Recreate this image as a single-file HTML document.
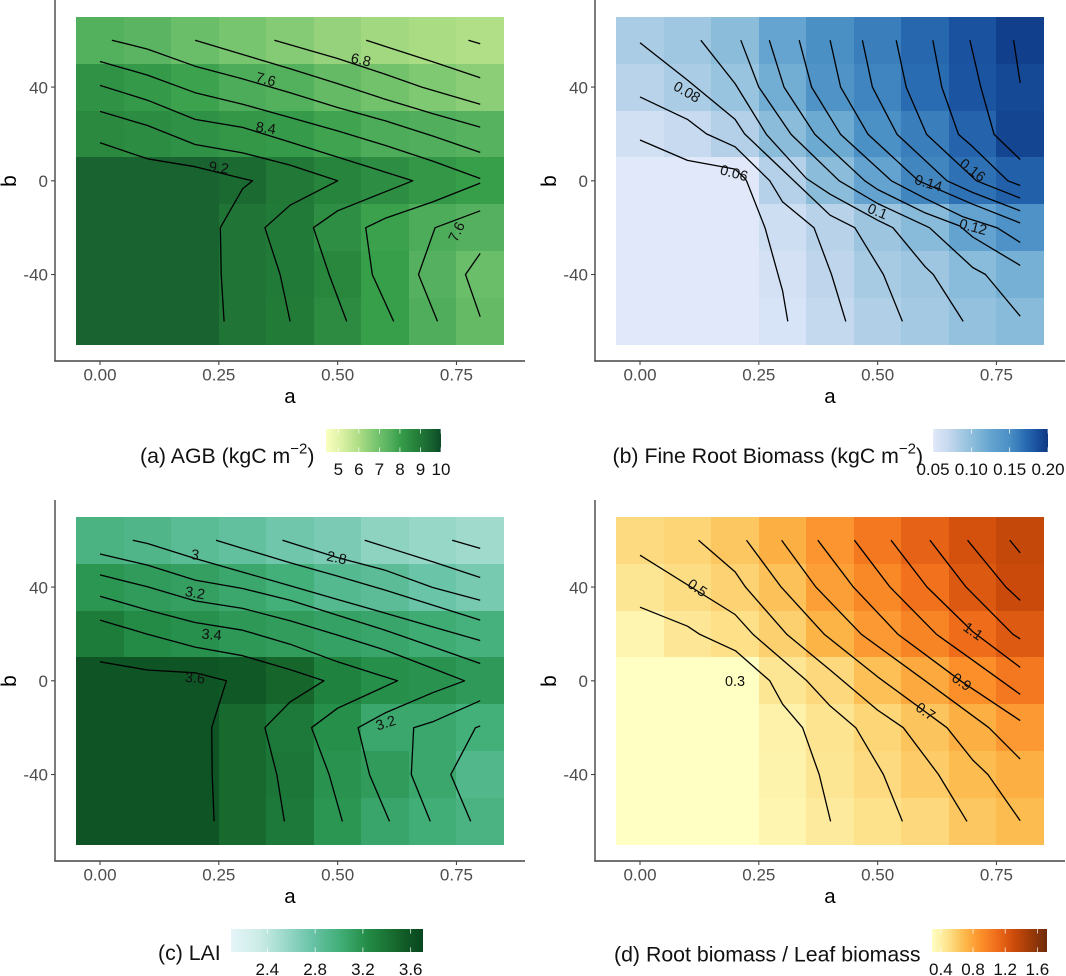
<!DOCTYPE html>
<html lang="en">
<head>
<meta charset="utf-8">
<title>Contour heatmaps of AGB, fine root biomass, LAI and root/leaf biomass</title>
<style>
html,body{margin:0;padding:0;background:#fff;}
svg{display:block;font-family:"Liberation Sans",Arial,sans-serif;}
</style>
</head>
<body>
<svg id="chart" width="1066" height="976" viewBox="0 0 1066 976" xmlns="http://www.w3.org/2000/svg"></svg>
<script>
// ---------- shared axes data ----------
const aValues = [0, 0.1, 0.2, 0.3, 0.4, 0.5, 0.6, 0.7, 0.8];
const bValues = [60, 40, 20, 0, -20, -40, -60];
const xTicks = [0, 0.25, 0.5, 0.75];
const xTickLabels = ["0.00", "0.25", "0.50", "0.75"];
const yTicks = [40, 0, -40];
const yTickLabels = ["40", "0", "-40"];

// ---------- (a) AGB ----------
const agbCells = [
  [7.54, 7.4, 7.1, 6.83, 6.62, 6.37, 6.17, 6.05, 5.92],
  [8.33, 8.13, 7.9, 7.65, 7.55, 7.2, 6.95, 6.7, 6.53],
  [8.57, 8.48, 8.36, 8.2, 8.1, 7.88, 7.66, 7.6, 7.48],
  [9.5, 9.5, 9.5, 9.35, 9.0, 8.7, 8.45, 8.2, 8.0],
  [9.5, 9.5, 9.5, 9.1, 8.95, 8.4, 7.93, 7.66, 7.5],
  [9.5, 9.5, 9.5, 9.1, 8.95, 8.65, 8.0, 7.5, 7.1],
  [9.5, 9.5, 9.5, 9.1, 8.92, 8.5, 8.0, 7.62, 7.2]
];
const agbContours = [
  [[.775,60],[.8,58.5]],
  [[.56,60],[.7,50.8],[.8,44]],
  [[.367,60],[.5,52.2],[.6,45.5],[.677,40],[.8,32.7]],
  [[.2,60],[.3,53.9],[.4,47.8],[.5,41.5],[.6,34.8],[.7,28.7],[.8,22.9]],
  [[.025,60],[.1,56.2],[.2,48.9],[.3,43.5],[.4,37.6],[.5,31.3],[.6,25.6],[.7,19.1],[.8,12.1]],
  [[0,50.9],[.1,45.1],[.2,37.6],[.3,32.7],[.4,27],[.5,21.3],[.6,15.1],[.7,8.4],[.8,1]],
  [[0,40.7],[.1,34.4],[.2,26.2],[.3,22.8],[.4,16.5],[.5,10.1],[.6,3.7],[.658,0],[.6,-4.7],[.5,-12.8],[.449,-20],[.482,-40],[.519,-60]],
  [[0,29.6],[.1,23.6],[.2,15.5],[.3,11.9],[.4,6.7],[.5,0],[.4,-10.4],[.347,-20],[.379,-40],[.4,-60]],
  [[0,16.2],[.1,9.4],[.2,6],[.3,1],[.321,0],[.3,-3.4],[.253,-20],[.255,-40],[.261,-60]],
  [[.8,-1],[.7,-9],[.6,-16],[.559,-20],[.573,-40],[.618,-60]],
  [[.8,-12.8],[.705,-20],[.67,-40],[.71,-60]],
  [[.8,-31],[.769,-40],[.8,-58]]
];
const agbLabelText = ["6.8", "7.6", "8.4", "9.2", "7.6"];
const agbLabelA = [.549, .349, .349, .25, .75];
const agbLabelB = [51.7, 43.4, 22.6, 5.7, -21.7];
const agbScaleValues = [4.4, 5.2, 6, 6.8, 7.6, 8, 8.4, 8.8, 9.2, 9.5, 10];
const agbScaleColors = ["#fbffbe","#d9f0a3","#addd84","#7ac670","#50ae5c","#379e4a","#2e8f44","#258039","#1d7035","#18632f","#0a4a28"];
const agbLegendTicks = [5, 6, 7, 8, 9, 10];
const agbLegendLabels = ["5", "6", "7", "8", "9", "10"];

// ---------- (b) Fine root biomass ----------
const rootCells = [
  [.085, .09, .102, .125, .149, .16, .173, .185, .195],
  [.077, .084, .094, .117, .145, .156, .17, .184, .19],
  [.061, .069, .08, .102, .12, .148, .16, .175, .192],
  [.05, .05, .05, .079, .102, .126, .155, .167, .177],
  [.05, .05, .05, .065, .078, .092, .104, .126, .146],
  [.05, .05, .05, .059, .074, .086, .091, .103, .114],
  [.05, .05, .05, .057, .071, .081, .088, .097, .104]
];
const rootContours = [
  [[.786,60],[.8,41.8]],
  [[.694,60],[.717,40],[.745,19.8],[.8,9.1]],
  [[.616,60],[.635,40],[.67,19.8],[.7,14.5],[.774,0],[.8,-2]],
  [[.539,60],[.56,40],[.603,19.8],[.708,0],[.8,-7.4]],
  [[.468,60],[.489,40],[.541,19.8],[.646,0],[.7,-5],[.8,-12.8]],
  [[.4,60],[.422,40],[.48,19.8],[.586,0],[.7,-10],[.8,-18]],
  [[.335,60],[.361,40],[.422,19.8],[.529,0],[.6,-7.5],[.68,-15.4],[.751,-20],[.8,-26.3]],
  [[.272,60],[.303,40],[.368,19.8],[.473,0],[.5,-3.7],[.6,-13.7],[.673,-19.3],[.7,-24],[.8,-36.1]],
  [[.212,60],[.25,40],[.318,19.8],[.419,0],[.5,-9.7],[.609,-20],[.7,-37],[.727,-40],[.8,-57.8]],
  [[.128,60],[.2,41.5],[.266,19.8],[.35,1],[.4,-5.7],[.5,-16.8],[.532,-20],[.6,-36.7],[.617,-40],[.68,-60]],
  [[0,58.9],[.1,43],[.2,26.2],[.22,20],[.3,4.6],[.4,-14.7],[.452,-20],[.512,-40],[.552,-60]],
  [[0,35.8],[.1,26.2],[.14,20],[.2,14.5],[.273,0],[.3,-9],[.366,-20],[.403,-40],[.433,-60]],
  [[0,17.4],[.1,8.7],[.2,5],[.221,1],[.224,0],[.263,-20],[.3,-47],[.311,-60]]
];
const rootLabelText = ["0.08", "0.06", "0.1", "0.14", "0.16", "0.12"];
const rootLabelA = [.099, .198, .5, .607, .7, .701];
const rootLabelB = [38, 3.4, -13, -0.9, 4.6, -19.6];
const rootScaleValues = [.05, .07, .09, .105, .125, .15, .17, .185, .2];
const rootScaleColors = ["#e0e8f9","#c6d9ef","#a0c7e1","#86bad9","#65a4d0","#4a8fc5","#2a6cb2","#1a52a0","#0e3680"];
const rootLegendTicks = [.05, .1, .15, .2];
const rootLegendLabels = ["0.05", "0.10", "0.15", "0.20"];

// ---------- (c) LAI ----------
const laiCells = [
  [2.96, 2.92, 2.86, 2.81, 2.74, 2.69, 2.61, 2.57, 2.53],
  [3.18, 3.14, 3.11, 3.06, 3.0, 2.89, 2.85, 2.77, 2.71],
  [3.34, 3.24, 3.21, 3.16, 3.13, 3.1, 3.07, 3.03, 2.98],
  [3.6, 3.6, 3.6, 3.57, 3.49, 3.3, 3.22, 3.2, 3.15],
  [3.6, 3.6, 3.6, 3.47, 3.36, 3.22, 3.06, 3.06, 3.0],
  [3.6, 3.6, 3.6, 3.47, 3.38, 3.2, 3.14, 3.06, 2.91],
  [3.6, 3.6, 3.6, 3.47, 3.36, 3.18, 3.07, 3.01, 2.96]
];
const laiContours = [
  [[.741,60],[.8,56.5]],
  [[.557,60],[.7,50.8],[.8,44.1]],
  [[.384,60],[.5,52.6],[.6,47.2],[.7,39.8],[.8,34.4]],
  [[.244,60],[.3,56.5],[.4,50.4],[.5,44.7],[.6,38.7],[.7,32.3],[.8,25.9]],
  [[.069,60],[.1,58.6],[.2,52.2],[.3,46.4],[.4,40.6],[.5,34.7],[.6,28.9],[.7,23],[.8,17.2]],
  [[0,54.1],[.1,49.4],[.2,43],[.3,39.4],[.4,34.4],[.5,28],[.6,21.6],[.7,14.5],[.8,7.4]],
  [[0,45.2],[.1,40.1],[.2,34.1],[.3,30.9],[.4,25.6],[.5,19.5],[.6,13.1],[.7,5.3],[.767,0],[.7,-5.1],[.6,-13.7],[.543,-20],[.567,-40],[.609,-60]],
  [[0,36.1],[.1,30.2],[.2,24.9],[.3,21.6],[.4,15.6],[.5,8.1],[.626,0],[.5,-11.7],[.445,-20],[.482,-40],[.51,-60]],
  [[0,25.9],[.1,19.9],[.2,14.4],[.3,10.7],[.4,4.8],[.471,0],[.4,-9],[.347,-20],[.372,-40],[.388,-60]],
  [[0,8.1],[.1,4.6],[.2,3.4],[.266,0],[.235,-20],[.236,-40],[.24,-60]],
  [[.8,-8.5],[.7,-17.5],[.66,-20],[.655,-40],[.695,-60]],
  [[.8,-19.3],[.79,-20],[.738,-40],[.78,-60]]
];
const laiLabelText = ["3", "2.8", "3.2", "3.4", "3.6", "3.2"];
const laiLabelA = [.2, .498, .2, .235, .2, .601];
const laiLabelB = [53.9, 52.6, 37.6, 19.8, 1.3, -17.9];
const laiScaleValues = [2.096, 2.33, 2.557, 2.786, 3.014, 3.243, 3.47, 3.6, 3.703];
const laiScaleColors = ["#e5f5f9","#ccece6","#99d8c9","#66c2a4","#41ae76","#238b45","#17692e","#0e5424","#08471e"];
const laiLegendTicks = [2.4, 2.8, 3.2, 3.6];
const laiLegendLabels = ["2.4", "2.8", "3.2", "3.6"];

// ---------- (d) Root / leaf biomass ----------
const ratioCells = [
  [.53, .555, .63, .74, .87, 1.03, 1.16, 1.27, 1.35],
  [.46, .515, .57, .655, .82, .94, 1.07, 1.22, 1.32],
  [.36, .45, .5, .58, .72, .85, .96, 1.1, 1.21],
  [.29, .29, .29, .46, .54, .66, .77, .9, 1.03],
  [.29, .29, .29, .38, .47, .55, .64, .74, .85],
  [.29, .29, .29, .37, .46, .53, .6, .68, .74],
  [.29, .29, .29, .36, .43, .49, .54, .63, .68]
];
const ratioContours = [
  [[.778,60],[.8,54.6]],
  [[.689,60],[.77,40],[.8,34.3]],
  [[.61,60],[.686,40],[.785,19.8],[.8,17.9]],
  [[.528,60],[.604,40],[.7,21],[.8,5.7]],
  [[.451,60],[.526,40],[.624,19.8],[.7,8.8],[.8,-5.8]],
  [[.374,60],[.449,40],[.543,19.8],[.677,-.4],[.8,-17]],
  [[.298,60],[.37,40],[.466,19.8],[.6,0],[.734,-20],[.8,-33.4]],
  [[.224,60],[.297,40],[.388,19.8],[.5,1.7],[.646,-20],[.7,-33.8],[.732,-40],[.8,-59.7]],
  [[.123,60],[.2,46.5],[.222,40],[.309,19.8],[.4,4.6],[.5,-12.5],[.554,-20],[.628,-40],[.688,-60]],
  [[0,53.6],[.2,28.3],[.238,19.8],[.351,0],[.4,-10.7],[.454,-20],[.512,-40],[.552,-60]],
  [[0,31.4],[.1,23.3],[.126,19.8],[.201,12.8],[.273,0],[.3,-10],[.342,-20],[.377,-40],[.401,-60]]
];
const ratioLabelText = ["0.5", "0.3", "0.7", "0.9", "1.1"];
const ratioLabelA = [.121, .2, .601, .677, .701];
const ratioLabelB = [39.7, 0, -13, -.4, 21.2];
const ratioScaleValues = [.29, .5, .7, .9, 1.1, 1.3, 1.5, 1.72];
const ratioScaleColors = ["#ffffc4","#fde088","#fcb84a","#fc8f2a","#ef6c1a","#cf4c0b","#a03c08","#6f2a0a"];
const ratioLegendTicks = [.4, .8, 1.2, 1.6];
const ratioLegendLabels = ["0.4", "0.8", "1.2", "1.6"];

// ---------- rendering (styles and layout only below) ----------
const NS = "http://www.w3.org/2000/svg";
const svg = document.getElementById("chart");
const defs = document.createElementNS(NS, "defs");
svg.appendChild(defs);

function make(tag, attrs, parent) {
  const node = document.createElementNS(NS, tag);
  for (const k in attrs) node.setAttribute(k, attrs[k]);
  parent.appendChild(node);
  return node;
}
function hexToRgb(h) {
  return [parseInt(h.slice(1, 3), 16), parseInt(h.slice(3, 5), 16), parseInt(h.slice(5, 7), 16)];
}
function colorFor(v, values, colors) {
  if (v <= values[0]) return colors[0];
  for (let i = 1; i < values.length; i++) {
    if (v <= values[i]) {
      const t = (v - values[i - 1]) / (values[i] - values[i - 1]);
      const c0 = hexToRgb(colors[i - 1]), c1 = hexToRgb(colors[i]);
      return "rgb(" + c0.map((c, j) => Math.round(c + (c1[j] - c) * t)).join(",") + ")";
    }
  }
  return colors[colors.length - 1];
}

function drawPanel(p) {
  const ox = p.ox, oy = p.oy;
  const x = a => ox + 100 + a * 475.3;
  const y = b => oy + 180.8 - b * 2.343;
  const g = make("g", {}, svg);
  
  

  // heat cells
  p.cells.forEach((row, r) => {
    row.forEach((v, c) => {
      const x0 = x(aValues[c] - 0.05), x1 = x(aValues[c] + 0.05);
      const y0 = y(bValues[r] + 10), y1 = y(bValues[r] - 10);
      const cell = make("rect", {
        x: Math.round(x0), y: Math.round(y0),
        width: Math.round(x1) - Math.round(x0), height: Math.round(y1) - Math.round(y0),
        fill: colorFor(v, p.scaleValues, p.scaleColors), "shape-rendering": "crispEdges"
      }, g);
      
      
    });
  });

  // contours
  p.contours.forEach(line => {
    const path = make("polyline", {
      points: line.map(pt => x(pt[0]).toFixed(1) + "," + y(pt[1]).toFixed(1)).join(" "),
      fill: "none", stroke: "#000", "stroke-width": 1.3, "stroke-linejoin": "round"
    }, g);
    
    
  });

  // contour labels
  p.labelText.forEach((t, i) => {
    const lx = x(p.labelA[i]), ly = y(p.labelB[i]);
    const label = make("text", {
      x: lx, y: ly + 5, "text-anchor": "middle", "font-size": 14.4, fill: "#111",
      transform: "rotate(" + p.labelAngles[i] + " " + lx + " " + ly + ")"
    }, g);
    label.textContent = t;
    
    
  });

  // axes
  const yAxis = make("line", { x1: ox + 55, x2: ox + 55, y1: oy, y2: oy + 361.5, stroke: "#444", "stroke-width": 1.4 }, g);
  
  
  const xAxis = make("line", { x1: ox + 54.3, x2: ox + 525, y1: oy + 361, y2: oy + 361, stroke: "#444", "stroke-width": 1.4 }, g);
  
  

  xTicks.forEach((v, i) => {
    const tick = make("line", { x1: x(v), x2: x(v), y1: oy + 361, y2: oy + 365, stroke: "#444", "stroke-width": 1.1 }, g);
    
    
    const text = make("text", { x: x(v), y: oy + 380.7, "text-anchor": "middle", "font-size": 17, fill: "#4d4d4d" }, g);
    text.textContent = xTickLabels[i];
    
    
  });
  yTicks.forEach((v, i) => {
    const tick = make("line", { x1: ox + 51, x2: ox + 55, y1: y(v), y2: y(v), stroke: "#444", "stroke-width": 1.1 }, g);
    
    
    const text = make("text", { x: ox + 48, y: y(v) + 6.2, "text-anchor": "end", "font-size": 17, fill: "#4d4d4d" }, g);
    text.textContent = yTickLabels[i];
    
    
  });

  const xTitle = make("text", { x: ox + 290, y: oy + 403, "text-anchor": "middle", "font-size": 20.5, fill: "#000" }, g);
  xTitle.textContent = "a";
  
  
  const yTitle = make("text", { x: ox + 16, y: oy + 181, "text-anchor": "middle", "font-size": 21, fill: "#000",
    transform: "rotate(-90 " + (ox + 16) + " " + (oy + 181) + ")" }, g);
  yTitle.textContent = "b";
  
  

  // legend
  const lx0 = p.legendX0, lx1 = p.legendX1, ly0 = oy + 429, ly1 = oy + 452;
  const vMin = p.scaleValues[0], vMax = p.scaleValues[p.scaleValues.length - 1];
  const lx = v => lx0 + (v - vMin) / (vMax - vMin) * (lx1 - lx0);
  const grad = make("linearGradient", { id: "grad-" + p.key, gradientUnits: "userSpaceOnUse", x1: lx0, x2: lx1, y1: 0, y2: 0 }, defs);
  p.scaleValues.forEach((v, i) => {
    make("stop", { offset: (v - vMin) / (vMax - vMin), "stop-color": p.scaleColors[i] }, grad);
  });
  const bar = make("rect", { x: lx0, y: ly0, width: lx1 - lx0, height: ly1 - ly0, fill: "url(#grad-" + p.key + ")" }, g);
  
  
  p.legendTicks.forEach((v, i) => {
    const t1 = make("line", { x1: lx(v), x2: lx(v), y1: ly0, y2: ly0 + 4.6, stroke: "#fff", "stroke-width": 0.7 }, g);
    
    
    const t2 = make("line", { x1: lx(v), x2: lx(v), y1: ly1 - 4.6, y2: ly1, stroke: "#fff", "stroke-width": 0.7 }, g);
    
    
    const text = make("text", { x: lx(v), y: oy + 475, "text-anchor": "middle", "font-size": 17, fill: "#111" }, g);
    text.textContent = p.legendLabels[i];
    
    
  });

  const title = make("text", { x: p.titleX, y: oy + p.titleY, "font-size": 21.3, fill: "#111" }, g);
  
  
  title.appendChild(document.createTextNode(p.title));
  if (p.titleUnits) {
    const sup = make("tspan", { dy: -9.5, "font-size": 15 }, title);
    sup.textContent = "\u22122";
    const close = make("tspan", { dy: 9.5 }, title);
    close.textContent = ")";
  }
}

drawPanel({ key: "agb", ox: 0, oy: 0, cells: agbCells, contours: agbContours,
  labelText: agbLabelText, labelA: agbLabelA, labelB: agbLabelB, labelAngles: [12, 15, 8, 8, -65],
  scaleValues: agbScaleValues, scaleColors: agbScaleColors, legendTicks: agbLegendTicks, legendLabels: agbLegendLabels,
  legendX0: 326, legendX1: 441, title: "(a) AGB (kgC m", titleUnits: true, titleX: 140, titleY: 463 });
drawPanel({ key: "root", ox: 540, oy: 0, cells: rootCells, contours: rootContours,
  labelText: rootLabelText, labelA: rootLabelA, labelB: rootLabelB, labelAngles: [30, 15, 22, 17, 38, 15],
  scaleValues: rootScaleValues, scaleColors: rootScaleColors, legendTicks: rootLegendTicks, legendLabels: rootLegendLabels,
  legendX0: 933, legendX1: 1048, title: "(b) Fine Root Biomass (kgC m", titleUnits: true, titleX: 612.5, titleY: 463 });
drawPanel({ key: "lai", ox: 0, oy: 500, cells: laiCells, contours: laiContours,
  labelText: laiLabelText, labelA: laiLabelA, labelB: laiLabelB, labelAngles: [10, 12, 10, 5, 5, -18],
  scaleValues: laiScaleValues, scaleColors: laiScaleColors, legendTicks: laiLegendTicks, legendLabels: laiLegendLabels,
  legendX0: 231, legendX1: 423, title: "(c) LAI", titleUnits: false, titleX: 158, titleY: 460 });
drawPanel({ key: "ratio", ox: 540, oy: 500, cells: ratioCells, contours: ratioContours,
  labelText: ratioLabelText, labelA: ratioLabelA, labelB: ratioLabelB, labelAngles: [35, 0, 35, 35, 35],
  scaleValues: ratioScaleValues, scaleColors: ratioScaleColors, legendTicks: ratioLegendTicks, legendLabels: ratioLegendLabels,
  legendX0: 932, legendX1: 1047, title: "(d) Root biomass / Leaf biomass", titleUnits: false, titleX: 614, titleY: 461.5 });
</script>
</body>
</html>
